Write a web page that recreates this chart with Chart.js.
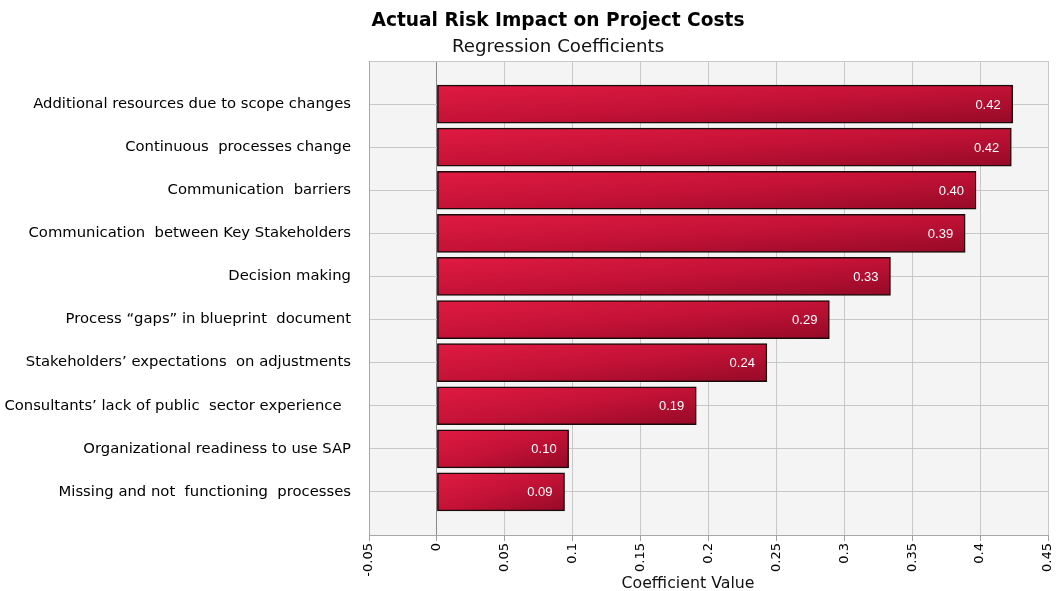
<!DOCTYPE html>
<html><head><meta charset="utf-8">
<script src="https://cdn.jsdelivr.net/npm/chart.js@4/dist/chart.umd.min.js"></script>
<style>html,body{margin:0;padding:0;background:#fff}#wrap{width:1056px;height:591px;position:relative}</style>
</head><body><div id="wrap"><canvas id="c" width="1056" height="591"></canvas></div>
<script>
const categories = [
  "Additional resources due to scope changes",
  "Continuous  processes change",
  "Communication  barriers",
  "Communication  between Key Stakeholders",
  "Decision making",
  "Process \u201cgaps\u201d in blueprint  document",
  "Stakeholders\u2019 expectations  on adjustments",
  "Consultants\u2019 lack of public  sector experience  ",
  "Organizational readiness to use SAP",
  "Missing and not  functioning  processes"
];
const coefficients = [0.424, 0.423, 0.397, 0.389, 0.334, 0.289, 0.243, 0.191, 0.097, 0.094];
const xTicks = [-0.05, 0, 0.05, 0.1, 0.15, 0.2, 0.25, 0.3, 0.35, 0.4, 0.45];
const titleText = "Actual Risk Impact on Project Costs";
const subtitleText = "Regression Coefficients";
const xTitle = "Coefficient Value";

const labels = [""].concat(categories, [""]);
const values = [null].concat(coefficients, [null]);

const PL = 369, PR = 1048, PT = 61, PB = 535;
const BAR_T = 38;

function barGradient(context) {
  const chart = context.chart;
  const v = values[context.dataIndex];
  if (!chart.chartArea || v == null || !chart.scales.x || !chart.scales.y) return '#c41236';
  const xs = chart.scales.x, ys = chart.scales.y;
  const a = xs.getPixelForValue(0), b = xs.getPixelForValue(v);
  const yc = ys.getPixelForValue(context.dataIndex);
  if (![a, b, yc].every(isFinite)) return '#c41236';
  const L = Math.min(a, b), w = Math.max(1, Math.abs(b - a));
  const T = yc - BAR_T / 2, h = BAR_T;
  const s = 2 / (1 / (w * w) + 1 / (h * h));
  const g = chart.ctx.createLinearGradient(L, T, L + s / w, T + s / h);
  g.addColorStop(0, '#e01a42');
  g.addColorStop(0.5, '#c41236');
  g.addColorStop(1, '#960a28');
  return g;
}

const frame = {
  id: 'frame',
  beforeDraw(chart) {
    const {ctx, chartArea: a} = chart;
    ctx.save();
    ctx.fillStyle = '#f4f4f4';
    ctx.fillRect(a.left, a.top, a.right - a.left, a.bottom - a.top);
    ctx.restore();
  },
  afterDatasetsDraw(chart) {
    const ctx = chart.ctx;
    const meta = chart.getDatasetMeta(0);
    ctx.save();
    ctx.font = '13px "Liberation Sans", Arial, sans-serif';
    ctx.fillStyle = '#ffffff';
    ctx.textAlign = 'right';
    ctx.textBaseline = 'middle';
    meta.data.forEach((el, i) => {
      const v = values[i];
      if (v == null) return;
      ctx.fillText(v.toFixed(2), el.x - 12, el.y + 1);
    });
    ctx.restore();
  },
  afterDraw(chart) {
    const ctx = chart.ctx;
    ctx.save();
    ctx.fillStyle = '#000';
    ctx.textAlign = 'center';
    ctx.textBaseline = 'alphabetic';
    ctx.font = 'bold 18.6px "DejaVu Sans", sans-serif';
    ctx.fillText(titleText, 558, 26);
    ctx.font = '18.2px "DejaVu Sans", sans-serif';
    ctx.fillStyle = '#111';
    ctx.fillText(subtitleText, 558, 52);
    ctx.font = '15.8px "DejaVu Sans", sans-serif';
    ctx.fillText(xTitle, 688, 588);
    ctx.restore();
  }
};

new Chart(document.getElementById('c'), {
  type: 'bar',
  data: {
    labels: labels,
    datasets: [{
      data: values,
      backgroundColor: barGradient,
      borderColor: '#1a0a0a',
      borderWidth: 1.5,
      borderSkipped: false,
      barThickness: BAR_T
    }]
  },
  options: {
    indexAxis: 'y',
    responsive: false,
    animation: false,
    devicePixelRatio: 1,
    layout: { padding: { top: PT, right: 1056 - PR, left: 0, bottom: 0 } },
    plugins: { legend: { display: false }, tooltip: { enabled: false } },
    scales: {
      x: {
        type: 'linear',
        min: -0.05, max: 0.45,
        afterBuildTicks(scale) { scale.ticks = xTicks.map(v => ({ value: v })); },
        afterFit(scale) { scale.height = 591 - PB; scale.paddingLeft = 0; scale.paddingRight = 0; },
        border: { display: true, color: '#a8a8a8', width: 1 },
        grid: {
          color: ctx => (ctx.tick && ctx.tick.value === 0) ? '#8a8a8a' : '#c8c8c8',
          lineWidth: 1,
          drawTicks: true,
          tickLength: 6,
          tickColor: '#a0a0a0'
        },
        ticks: {
          minRotation: 90, maxRotation: 90,
          padding: 2,
          color: '#000',
          font: { family: '"DejaVu Sans", sans-serif', size: 13 },
          callback: v => String(Math.round(v * 100) / 100)
        }
      },
      y: {
        type: 'category',
        offset: false,
        afterFit(scale) { scale.width = PL; scale.paddingTop = 0; scale.paddingBottom = 0; },
        border: { display: true, color: '#a8a8a8', width: 1 },
        grid: { color: '#c8c8c8', lineWidth: 1, drawTicks: false, offset: false },
        ticks: {
          padding: 18,
          color: '#000',
          autoSkip: false,
          font: { family: '"DejaVu Sans", sans-serif', size: 14.8 }
        }
      }
    }
  },
  plugins: [frame]
});
</script>
</body></html>
